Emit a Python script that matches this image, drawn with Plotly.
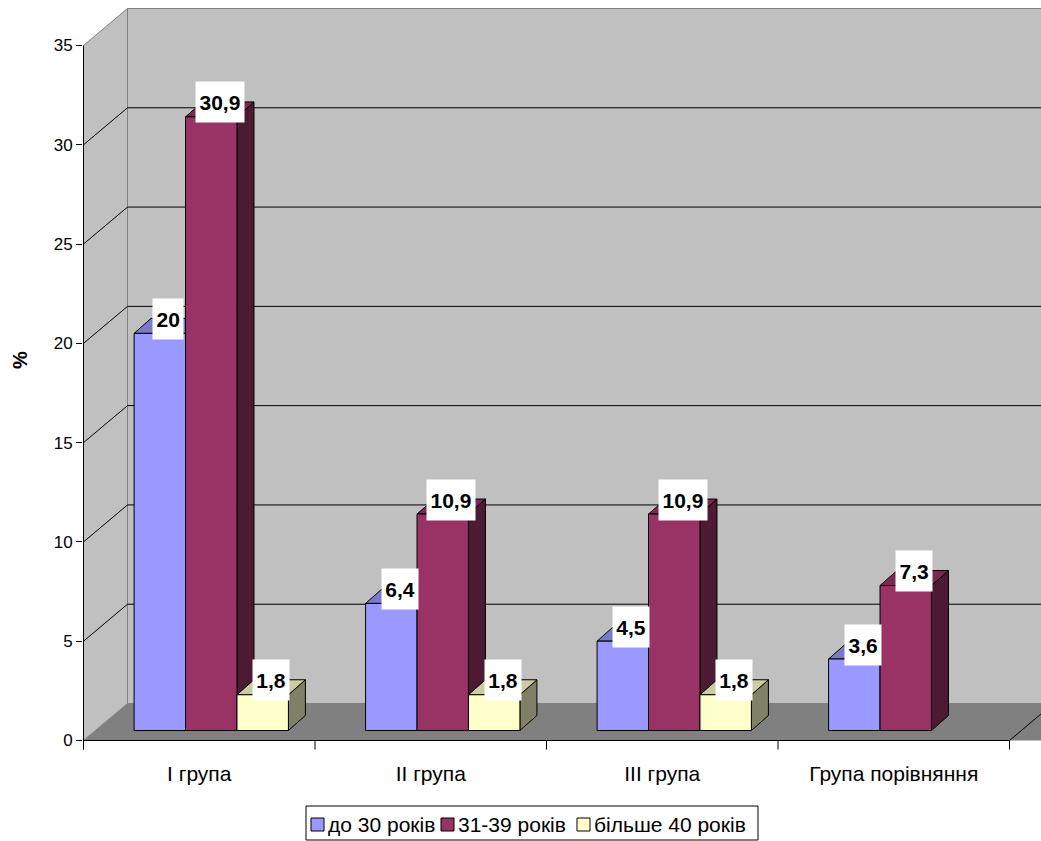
import plotly.graph_objects as go

# ---------------- data ----------------
categories = ["I група", "II група", "III група", "Група порівняння"]
series_names = ["до 30 років", "31-39 років", "більше 40 років"]
under_30 = [20, 6.4, 4.5, 3.6]
age_31_39 = [30.9, 10.9, 10.9, 7.3]
over_40 = [1.8, 1.8, 1.8, None]
y_ticks = [0, 5, 10, 15, 20, 25, 30, 35]
y_title = "%"

series_values = [under_30, age_31_39, over_40]

# ---------------- styles ----------------
FONT = "Liberation Sans, Arial, sans-serif"
front_colors = ["#9999FF", "#993366", "#FFFFCC"]
top_colors = ["#7A7ACC", "#7A2952", "#CCCCA3"]
side_colors = ["#4D4D80", "#4D1A33", "#808066"]
WALL = "#C0C0C0"
WALL_LINE = "#808080"
FLOOR = "#808080"

W, H = 1041, 841
PL, PR, PT, PB = 83, 1041, 5, 752      # plot area in px
X0PX, Y0PX = 83.5, 740.5                # px of origin (front plane)
PXU = 231.5                             # px per category
PXV = 695.0 / 35.0                      # px per value unit


def du(px):
    return px / PXU


def dv(px):
    return px / PXV


def paper_x(px):
    return (px - PL) / (PR - PL)


def paper_y(py):
    return (PB - py) / (PB - PT)


xr = [-(X0PX - PL) / PXU, (PR - X0PX) / PXU]
yr = [-(PB - Y0PX) / PXV, (Y0PX - PT) / PXV]

ncat = len(categories)
ymax = y_ticks[-1]
wx, wy = du(44), dv(37)          # wall depth
bfx, bfy = du(12), dv(10)        # bar front offset
bdx, bdy = du(17), dv(15)        # bar depth
bw = 1 / 4.5                     # bar width (gap 150%)

fig = go.Figure()
shapes = []


def line(x0, y0, x1, y1, color="black", width=1, layer="below"):
    shapes.append(dict(type="line", xref="x", yref="y", x0=x0, y0=y0, x1=x1, y1=y1,
                       line=dict(color=color, width=width), layer=layer))


# walls
shapes.append(dict(type="rect", xref="x", yref="y", x0=wx, x1=ncat + wx + 1, y0=wy, y1=ymax + wy,
                   fillcolor=WALL, line=dict(color=WALL_LINE, width=1), layer="below"))
shapes.append(dict(type="path", xref="x", yref="y",
                   path=f"M 0,0 L 0,{ymax} L {wx},{ymax + wy} L {wx},{wy} Z",
                   fillcolor=WALL, line=dict(color=WALL_LINE, width=1), layer="below"))
shapes.append(dict(type="path", xref="x", yref="y",
                   path=f"M 0,0 L {wx},{wy} L {ncat + wx + 1},{wy} L {ncat + 1},0 Z",
                   fillcolor=FLOOR, line=dict(width=0), layer="below"))
# gridlines
for k in y_ticks[1:-1]:
    line(wx, k + wy, ncat + wx + 1, k + wy)
    line(0, k, wx, k + wy)
# axes
line(0, 0, ncat, 0)
line(ncat, 0, ncat + wx, wy)
line(0, -dv(9), 0, ymax)
for i in range(ncat + 1):
    line(i, 0, i, -dv(9))

# bars
annotations = []


def text_width(t, size):
    w = 0
    for ch in t:
        w += 0.278 * size if ch in ",." else 0.556 * size
    return w


for c in range(ncat):
    for s, vals in enumerate(series_values):
        v = vals[c]
        if v is None:
            continue
        x0 = c + 0.75 * bw + s * bw + bfx
        x1 = x0 + bw
        yb = bfy
        yt = bfy + v
        # side
        fig.add_trace(go.Scatter(x=[x1, x1 + bdx, x1 + bdx, x1, x1], y=[yb, yb + bdy, yt + bdy, yt, yb],
                                 mode="lines", fill="toself", fillcolor=side_colors[s],
                                 line=dict(color="black", width=1), hoverinfo="skip", showlegend=False))
        # top
        fig.add_trace(go.Scatter(x=[x0, x1, x1 + bdx, x0 + bdx, x0], y=[yt, yt, yt + bdy, yt + bdy, yt],
                                 mode="lines", fill="toself", fillcolor=top_colors[s],
                                 line=dict(color="black", width=1), hoverinfo="skip", showlegend=False))
        # front
        fig.add_trace(go.Scatter(x=[x0, x1, x1, x0, x0], y=[yb, yb, yt, yt, yb],
                                 mode="lines", fill="toself", fillcolor=front_colors[s],
                                 line=dict(color="black", width=1), hoverinfo="skip", showlegend=False))
        label = f"{v:g}".replace(".", ",")
        annotations.append(dict(xref="x", yref="y", x=(x0 + x1) / 2 + bdx / 2, y=yt + bdy / 2,
                                yshift=7, text=f"<b>{label}</b>", showarrow=False,
                                font=dict(family=FONT, size=21, color="black"),
                                bgcolor="white", borderpad=1, height=38,
                                width=text_width(label, 21) + 5, align="center"))

# y title
annotations.append(dict(xref="paper", yref="paper", x=paper_x(20), y=paper_y(360), text=f"<b>{y_title}</b>",
                        xanchor="center", yanchor="middle",
                        showarrow=False, textangle=-90, font=dict(family=FONT, size=20, color="black")))

# legend (manual)
leg_box = (306, 806, 758, 840)
shapes.append(dict(type="rect", xref="paper", yref="paper", x0=paper_x(leg_box[0]), x1=paper_x(leg_box[2]),
                   y0=paper_y(leg_box[3]), y1=paper_y(leg_box[1]), fillcolor="white",
                   line=dict(color="black", width=1), layer="above"))
leg_sq = [311, 441, 577]
for s, name in enumerate(series_names):
    sx = leg_sq[s]
    shapes.append(dict(type="rect", xref="paper", yref="paper", x0=paper_x(sx), x1=paper_x(sx + 13),
                       y0=paper_y(831), y1=paper_y(818), fillcolor=front_colors[s],
                       line=dict(color="black", width=1), layer="above"))
    annotations.append(dict(xref="paper", yref="paper", x=paper_x(sx + 15), y=paper_y(825), text=name,
                            showarrow=False, xanchor="left", yanchor="middle",
                            font=dict(family=FONT, size=21, color="black")))

fig.update_layout(
    width=W, height=H,
    margin=dict(l=PL, r=W - PR, t=PT, b=H - PB, pad=0),
    paper_bgcolor="white", plot_bgcolor="white",
    font=dict(family=FONT, color="black"),
    shapes=shapes, annotations=annotations, showlegend=False,
    xaxis=dict(range=xr, tickvals=[i + 0.5 for i in range(ncat)], ticktext=categories,
               ticks="", showgrid=False, zeroline=False, showline=False,
               tickfont=dict(family=FONT, size=21, color="black"), ticklabelstandoff=7, fixedrange=True),
    yaxis=dict(range=yr, tickvals=y_ticks, ticktext=[str(t) for t in y_ticks],
               ticks="outside", ticklen=6, tickcolor="black", tickwidth=1,
               showgrid=False, zeroline=False, showline=False,
               tickfont=dict(family=FONT, size=17, color="black"), fixedrange=True),
)

fig.write_html("out.html")
